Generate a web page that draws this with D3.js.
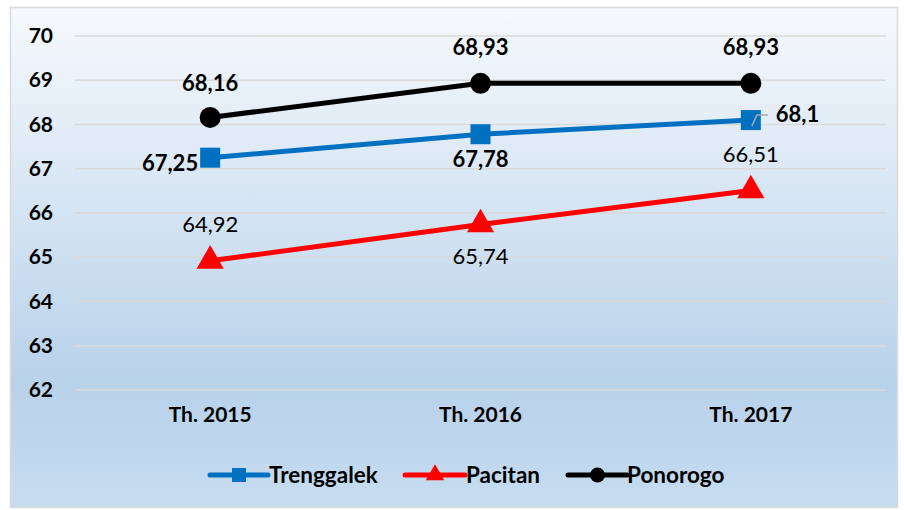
<!DOCTYPE html>
<html><head><meta charset="utf-8">
<script src="https://cdn.jsdelivr.net/npm/d3@7"></script>
<style>body{margin:0;background:#fff}svg{display:block}</style>
</head><body>
<svg id="c" width="904" height="510"></svg>
<script>
const categories = ["Th. 2015", "Th. 2016", "Th. 2017"];
const trenggalek = [67.25, 67.78, 68.1];
const pacitan = [64.92, 65.74, 66.51];
const ponorogo = [68.16, 68.93, 68.93];
const yTicks = [62, 63, 64, 65, 66, 67, 68, 69, 70];
const seriesNames = ["Trenggalek", "Pacitan", "Ponorogo"];

const font = "Lato, 'Open Sans', sans-serif";
const svg = d3.select("#c");
const defs = svg.append("defs");
const g = defs.append("linearGradient").attr("id","bg").attr("x1",0).attr("y1",0).attr("x2",0).attr("y2",1);
g.append("stop").attr("offset","0%").attr("stop-color","#f6f9fd");
g.append("stop").attr("offset","75%").attr("stop-color","#b8d2ea");
g.append("stop").attr("offset","100%").attr("stop-color","#c6dcf0");

svg.append("rect").attr("x",10.5).attr("y",7.5).attr("width",887).attr("height",500)
  .attr("fill","url(#bg)").attr("stroke","#d9d9d9").attr("stroke-width",1.5);

const x = d3.scaleBand().domain(categories).range([75, 886]);
const y = d3.scaleLinear().domain([62, 70]).range([390, 36]);
const cx = c => x(c) + x.bandwidth()/2;

// grid
svg.append("g").selectAll("line").data(yTicks).join("line")
  .attr("x1",75).attr("x2",886).attr("y1",d=>y(d)).attr("y2",d=>y(d))
  .attr("stroke","#d9d9d9").attr("stroke-width",1.5);

// y axis
const yAxis = svg.append("g").attr("transform","translate(53,0)")
  .call(d3.axisLeft(y).tickValues(yTicks).tickSize(0).tickPadding(0).tickFormat(d3.format("d")));
yAxis.select(".domain").remove();
yAxis.selectAll("text").attr("font-family",font).attr("font-weight","bold").attr("font-size",21).attr("fill","#000");

// x axis
const xAxis = svg.append("g").attr("transform","translate(0,407)")
  .call(d3.axisBottom(x).tickSize(0).tickPadding(0));
xAxis.select(".domain").remove();
xAxis.selectAll("text").attr("font-family",font).attr("font-weight","bold").attr("font-size",21).attr("fill","#000");

const line = d3.line().x((d,i)=>cx(categories[i])).y(d=>y(d));
const colors = {Trenggalek:"#0070c0", Pacitan:"#ff0000", Ponorogo:"#000000"};

function drawSeries(vals, color) {
  svg.append("path").datum(vals).attr("d",line).attr("fill","none").attr("stroke",color).attr("stroke-width",5);
}
drawSeries(pacitan, colors.Pacitan);
drawSeries(trenggalek, colors.Trenggalek);
drawSeries(ponorogo, colors.Ponorogo);

// markers
svg.append("g").selectAll("rect").data(trenggalek).join("rect")
  .attr("x",(d,i)=>cx(categories[i])-10).attr("y",d=>y(d)-10).attr("width",20).attr("height",20)
  .attr("fill",colors.Trenggalek);
const tri = d3.symbol().type(d3.symbolTriangle).size(320);
svg.append("g").selectAll("path").data(pacitan).join("path")
  .attr("transform",(d,i)=>`translate(${cx(categories[i])},${y(d)})`).attr("d",tri).attr("fill",colors.Pacitan);
svg.append("g").selectAll("circle").data(ponorogo).join("circle")
  .attr("cx",(d,i)=>cx(categories[i])).attr("cy",d=>y(d)).attr("r",10.5).attr("fill",colors.Ponorogo);

const fmt = v => String(v).replace(".", ",");
function label(v, i, dx, dy, bold, anchor) {
  svg.append("text").attr("x",cx(categories[i])+dx).attr("y",y(v)+dy)
    .attr("text-anchor",anchor||"middle").attr("font-family",font).attr("font-size",22)
    .attr("font-weight",bold?"bold":"normal").attr("fill","#000").text(fmt(v));
}
// Ponorogo labels above
label(ponorogo[0],0,0,-26,true);
label(ponorogo[1],1,0,-28,true);
label(ponorogo[2],2,0,-28,true);
// Trenggalek
label(trenggalek[0],0,-12,13,true,"end");
label(trenggalek[1],1,0,33,true);
label(trenggalek[2],2,25,2,true,"start");
// leader line for 68,1
svg.append("path").attr("d",`M${cx(categories[2])+1},${y(trenggalek[2])+6} L${cx(categories[2])+6},${y(trenggalek[2])-5} L${cx(categories[2])+17},${y(trenggalek[2])-5}`)
  .attr("fill","none").attr("stroke","#a6a6a6").attr("stroke-width",1.5);
// Pacitan
label(pacitan[0],0,0,-29,false);
label(pacitan[1],1,0,39,false);
label(pacitan[2],2,0,-28,false);

// legend
const legend = [
  {name:"Trenggalek", x1:210, x2:268, tx:269, type:"rect"},
  {name:"Pacitan", x1:405, x2:465, tx:466, type:"tri"},
  {name:"Ponorogo", x1:568, x2:627, tx:627, type:"circle"}
];
const ly = 475;
legend.forEach(l => {
  const col = colors[l.name];
  svg.append("line").attr("x1",l.x1).attr("x2",l.x2).attr("y1",ly).attr("y2",ly).attr("stroke",col).attr("stroke-width",5).attr("stroke-linecap","round");
  const mx = (l.x1+l.x2)/2;
  if (l.type==="rect") svg.append("rect").attr("x",mx-7).attr("y",ly-7).attr("width",14).attr("height",14).attr("fill",col);
  if (l.type==="tri") svg.append("path").attr("transform",`translate(${mx},${ly})`).attr("d",d3.symbol().type(d3.symbolTriangle).size(150)).attr("fill",col);
  if (l.type==="circle") svg.append("circle").attr("cx",mx).attr("cy",ly).attr("r",7.5).attr("fill",col);
  svg.append("text").attr("x",l.tx).attr("y",ly+8).attr("font-family",font).attr("font-weight","bold").attr("font-size",22.5).attr("fill","#000").text(l.name);
});
</script>
</body></html>
